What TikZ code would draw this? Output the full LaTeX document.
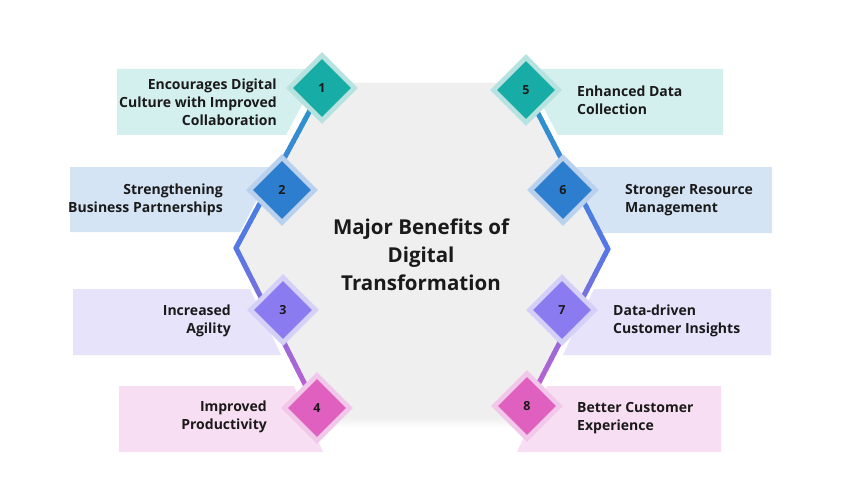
\documentclass[tikz,border=0pt]{standalone}
\usepackage{fontspec}
\newfontfamily\lbl{Open Sans}
\usetikzlibrary{shapes.geometric,calc}
\definecolor{graybg}{HTML}{EFEFEF}
\definecolor{bxa}{HTML}{D3F0EE}
\definecolor{bxb}{HTML}{D5E4F5}
\definecolor{bxc}{HTML}{E6E3FB}
\definecolor{bxd}{HTML}{F8DEF2}
\definecolor{ca}{HTML}{17ACA6}
\definecolor{cb}{HTML}{2E7ECF}
\definecolor{cc}{HTML}{8A7CF0}
\definecolor{cd}{HTML}{E060C0}
\definecolor{ha}{HTML}{B6E3E0}
\definecolor{hb}{HTML}{B9D1EC}
\definecolor{hc}{HTML}{D4D0F8}
\definecolor{hd}{HTML}{F1C8E9}
\definecolor{lA}{HTML}{2596C8}
\definecolor{lB}{HTML}{5677E6}
\definecolor{lC}{HTML}{C65FCF}
\definecolor{ink}{HTML}{1A1A1A}
\tikzset{
  halo/.style={diamond, inner sep=0pt, minimum width=72pt, minimum height=72pt},
  dia/.style={diamond, inner sep=0pt, minimum width=58pt, minimum height=58pt,
    font=\lbl\bfseries\fontsize{12.5}{15}\selectfont, text=ink},
  lblL/.style={anchor=east, align=right, inner sep=0pt, text=ink,
    font=\lbl\bfseries\fontsize{14}{18}\selectfont},
  lblR/.style={anchor=west, align=left, inner sep=0pt, text=ink,
    font=\lbl\bfseries\fontsize{14}{18}\selectfont},
  titlestyle/.style={align=center, inner sep=0pt, text=ink,
    font=\lbl\bfseries\fontsize{20.5}{28}\selectfont},
  seg/.style={line width=5pt, line cap=round}
}
\newcommand{\gradline}[4]{%
  \foreach \i in {0,...,29}{%
    \pgfmathsetmacro\ta{\i/30}%
    \pgfmathsetmacro\tb{(\i+1)/30}%
    \pgfmathtruncatemacro\pp{100*\i/29}%
    \draw[seg, color=#4!\pp!#3] ($(#1)!\ta!(#2)$) -- ($(#1)!\tb!(#2)$);
  }%
}
\begin{document}
\begin{tikzpicture}[x=1pt,y=-1pt]
\useasboundingbox (0,0) rectangle (846,500);
\fill[white] (0,0) rectangle (846,500);

% label boxes
\fill[bxa] (117,69) -- (321,69) -- (286,135) -- (117,135) -- cycle;
\fill[bxb] (70,167) -- (274,167) -- (240,232) -- (70,232) -- cycle;
\fill[bxc] (73,289) -- (250,289) -- (281,355) -- (73,355) -- cycle;
\fill[bxd] (119,386) -- (294,386) -- (323,452) -- (119,452) -- cycle;
\fill[bxa] (523,69) -- (723,69) -- (723,135) -- (558,135) -- cycle;
\fill[bxb] (567,167) -- (772,167) -- (772,233) -- (602,233) -- cycle;
\fill[bxc] (594,289) -- (771,289) -- (771,355) -- (563,355) -- cycle;
\fill[bxd] (547,386) -- (721,386) -- (721,452) -- (517,452) -- cycle;

% central grey panel
\fill[graybg] (325,83) -- (522,83) -- (608,249) -- (521,418) -- (322,418) -- (236,248) -- cycle;
\shade[top color=graybg, bottom color=white] (322,417) rectangle (522,428);

% positions
\coordinate (p1) at (322,88);
\coordinate (p2) at (282,190);
\coordinate (p3) at (283,310);
\coordinate (p4) at (317,408);
\coordinate (p5) at (526,90);
\coordinate (p6) at (563,190);
\coordinate (p7) at (562,310);
\coordinate (p8) at (527,406);
\coordinate (vL) at (236,248);
\coordinate (vR) at (608,249);

% connectors
\gradline{p1}{vL}{lA}{lB}
\gradline{vL}{p4}{lB}{lC}
\gradline{p5}{vR}{lA}{lB}
\gradline{vR}{p8}{lB}{lC}

% diamonds
\node[halo, fill=ha] (h1) at (p1) {};
\node[dia, fill=ca] (d1) at (p1) {1};
\node[halo, fill=hb] (h2) at (p2) {};
\node[dia, fill=cb] (d2) at (p2) {2};
\node[halo, fill=hc] (h3) at (p3) {};
\node[dia, fill=cc] (d3) at (p3) {3};
\node[halo, fill=hd] (h4) at (p4) {};
\node[dia, fill=cd] (d4) at (p4) {4};
\node[halo, fill=ha] (h5) at (p5) {};
\node[dia, fill=ca] (d5) at (p5) {5};
\node[halo, fill=hb] (h6) at (p6) {};
\node[dia, fill=cb] (d6) at (p6) {6};
\node[halo, fill=hc] (h7) at (p7) {};
\node[dia, fill=cc] (d7) at (p7) {7};
\node[halo, fill=hd] (h8) at (p8) {};
\node[dia, fill=cd] (d8) at (p8) {8};

% labels
\node[lblL] (t1) at (277,102) {Encourages Digital\\Culture with Improved\\Collaboration};
\node[lblL] (t2) at (223,200) {Strengthening\\Business Partnerships};
\node[lblL] (t3) at (231,321) {Increased\\Agility};
\node[lblL] (t4) at (267,417) {Improved\\Productivity};
\node[lblR] (t5) at (577,100) {Enhanced Data\\Collection};
\node[lblR] (t6) at (625,200) {Stronger Resource\\Management};
\node[lblR] (t7) at (613,321) {Data-driven\\Customer Insights};
\node[lblR] (t8) at (577,418) {Better Customer\\Experience};

% title
\node[titlestyle] (title) at (421,255) {Major Benefits of\\Digital\\Transformation};
\end{tikzpicture}
\end{document}
